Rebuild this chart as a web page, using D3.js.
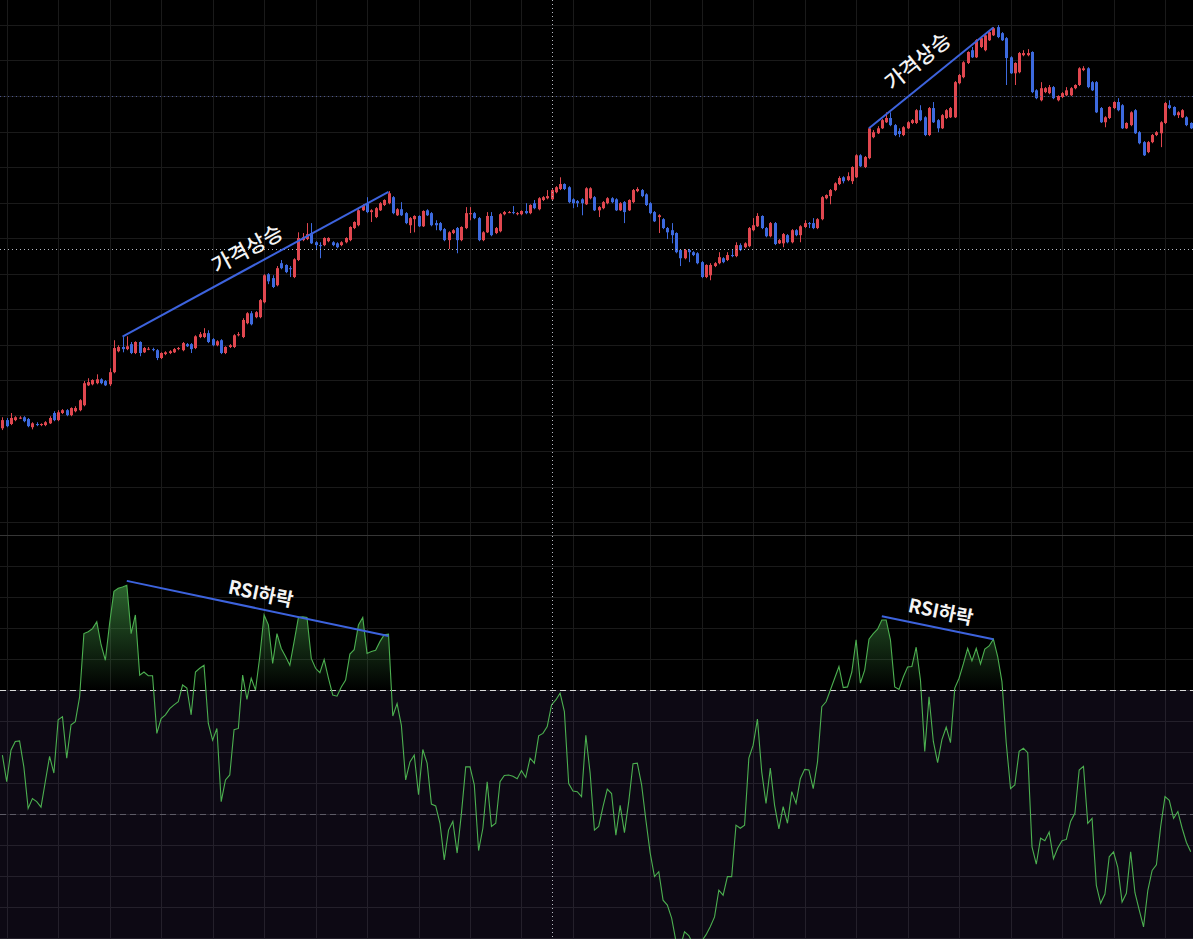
<!DOCTYPE html>
<html>
<head>
<meta charset="utf-8">
<script src="https://cdn.jsdelivr.net/npm/d3@7"></script>
<style>
  html, body { margin: 0; background: #000; }
  svg { display: block; }
</style>
</head>
<body>
<div id="chart"></div>
<script>
// candle data (price units, grid every 10)
const opens = [
  126.4,128.7,127.6,128.7,129.1,129.5,129.0,126.7,127.6,127.3,
  127.3,127.8,130.7,128.7,130.7,131.5,130.1,131.2,131.5,132.9,
  138.5,138.8,139.1,140.2,139.7,138.8,142.2,148.1,149.3,148.7,
  150.1,147.6,150.7,147.8,148.6,148.7,148.4,146.2,147.3,147.6,
  147.8,148.7,148.4,150.1,150.1,149.0,152.1,152.1,153.2,151.5,
  149.8,151.2,147.6,149.3,149.3,152.6,152.1,156.0,158.8,157.7,
  157.7,161.9,169.8,168.7,166.7,172.9,172.4,171.5,169.0,173.8,
  179.4,179.7,181.4,178.8,178.0,178.0,179.1,178.8,178.5,178.0,
  178.8,179.4,182.8,183.6,187.8,189.8,187.3,185.9,187.8,189.3,
  189.8,191.5,186.4,188.1,187.0,183.6,185.3,186.2,183.3,187.8,
  187.0,184.2,184.2,182.5,179.4,181.4,182.8,179.4,182.8,186.7,
  187.0,185.6,179.4,181.6,186.2,181.4,181.9,186.7,187.1,187.3,
  186.9,186.7,187.6,187.0,189.8,188.1,190.7,191.2,190.9,192.9,
  193.8,195.2,194.3,190.9,190.4,190.9,189.5,191.2,191.5,187.8,
  188.4,189.8,191.2,190.9,187.8,190.1,187.8,190.1,193.2,193.5,
  192.3,189.8,187.3,185.9,185.3,182.8,182.2,181.4,176.6,174.3,
  176.6,176.0,175.7,173.2,169.0,169.5,172.1,172.9,174.3,173.8,
  175.2,174.9,178.0,177.4,177.7,182.2,183.3,186.2,182.8,180.5,
  184.2,178.5,178.5,180.8,178.8,182.2,180.8,183.1,184.2,184.2,
  182.8,185.3,191.2,191.8,193.5,195.2,197.1,196.3,196.0,197.1,
  203.3,200.0,202.5,208.4,209.5,210.9,212.6,213.8,211.8,210.1,
  209.0,210.9,212.4,212.4,216.0,214.0,209.0,216.6,213.2,210.9,
  213.8,214.0,214.0,223.6,225.3,229.3,232.9,230.9,233.8,232.9,
  235.7,237.1,239.4,237.7,236.3,230.9,226.4,226.7,231.5,231.5,
  232.4,221.6,218.8,221.1,220.8,222.5,218.8,219.7,220.2,220.2,
  222.2,223.1,227.3,227.8,223.9,223.9,216.6,212.6,213.8,216.6,
  218.3,217.4,210.9,211.8,216.0,209.8,207.0,204.2,207.0,209.0,
  209.5,212.4,217.4,216.9,214.6,214.0,214.0,212.4
];
const highs = [
  129.5,129.3,130.7,129.8,129.8,129.8,129.3,128.1,128.1,127.8,
  128.4,129.8,131.2,131.5,131.8,131.8,132.3,132.6,134.6,139.7,
  140.5,140.2,141.6,140.5,140.0,143.3,151.2,149.8,152.1,152.3,
  150.7,150.9,150.9,149.3,149.3,149.1,148.7,147.8,148.1,148.4,
  149.0,149.3,150.7,150.4,150.4,152.6,153.5,154.6,154.0,151.8,
  151.2,151.5,149.5,150.1,152.9,153.5,157.4,159.1,159.4,159.4,
  162.8,169.8,170.1,169.5,172.1,173.8,172.6,172.1,174.3,181.6,
  181.4,184.2,184.2,179.1,178.8,180.2,180.2,179.1,178.8,179.1,
  180.2,183.3,184.7,188.1,189.5,191.5,188.1,188.7,190.1,190.9,
  193.2,191.8,188.4,190.1,187.3,185.9,186.4,186.4,187.8,188.1,
  187.3,185.0,184.5,182.8,181.9,182.5,183.1,183.3,188.7,188.7,
  187.3,185.9,181.9,187.3,187.3,183.1,187.0,187.6,187.6,189.0,
  187.3,187.8,189.8,189.5,190.7,191.5,191.8,193.5,193.8,194.6,
  197.1,195.4,194.6,191.2,190.7,191.2,194.3,194.3,191.8,189.0,
  190.4,191.5,191.5,191.2,190.1,190.4,190.9,193.8,194.3,193.8,
  192.6,190.1,187.6,186.7,185.6,183.1,184.2,181.6,176.9,176.9,
  176.9,176.3,176.0,173.5,172.6,172.9,173.2,176.0,174.6,176.0,
  176.6,178.8,178.5,178.8,183.1,185.6,187.0,186.4,183.1,184.5,
  184.5,179.7,181.4,181.1,182.5,182.5,183.6,185.0,184.5,185.6,
  185.6,191.8,192.3,193.8,195.7,197.4,197.4,198.5,200.2,203.6,
  203.6,203.1,211.2,210.4,211.5,213.5,215.4,215.4,212.1,210.9,
  211.5,212.9,213.5,216.3,217.4,214.3,216.9,218.3,213.5,214.9,
  216.3,216.9,224.2,226.2,229.8,232.6,233.8,236.0,236.6,237.7,
  238.3,239.4,240.0,238.0,236.6,231.2,229.5,232.4,232.9,233.2,
  232.6,221.9,223.9,222.5,223.1,222.8,220.2,221.1,222.5,222.5,
  223.3,228.1,228.4,228.1,224.2,224.2,216.9,214.3,217.1,218.5,
  219.4,217.7,212.6,215.7,216.3,210.1,207.3,207.3,209.3,210.1,
  212.9,218.3,218.8,217.1,215.7,216.3,214.3,212.6
];
const lows = [
  125.9,126.7,127.3,128.4,129.0,128.1,126.7,126.1,127.0,127.0,
  127.0,127.6,128.4,128.4,130.4,129.8,129.8,130.9,131.2,132.6,
  138.3,138.5,138.8,138.8,138.3,138.3,141.9,147.8,147.8,148.4,
  147.3,147.3,146.7,147.6,148.4,148.1,145.6,145.9,147.0,147.3,
  147.6,148.4,148.1,149.3,147.6,148.7,151.8,151.8,150.4,149.5,
  149.5,147.3,147.3,149.0,149.0,152.3,151.8,155.7,155.4,157.4,
  157.4,161.6,167.0,165.9,166.4,171.2,170.1,169.0,168.7,173.5,
  179.1,179.4,178.3,176.6,174.3,177.7,178.8,177.7,177.1,177.7,
  178.5,179.1,182.5,183.3,187.6,187.0,184.5,185.6,187.6,189.0,
  189.5,186.7,186.2,186.2,183.9,181.4,181.6,183.1,183.1,186.2,
  183.3,182.2,181.9,179.1,176.9,181.1,175.7,179.1,182.5,185.0,
  185.3,179.1,179.1,181.4,180.5,181.1,181.6,186.4,187.0,186.7,
  186.4,186.4,186.7,186.7,188.1,187.8,190.4,190.9,190.7,192.6,
  193.5,193.5,189.8,188.4,188.7,186.4,189.3,190.9,187.6,185.9,
  188.1,189.5,189.8,187.6,187.6,184.2,187.6,189.8,192.9,191.5,
  189.0,186.7,184.5,181.4,182.5,179.7,178.5,175.7,172.1,174.0,
  173.2,174.9,172.6,168.7,168.7,168.1,171.8,172.6,172.9,173.5,
  174.6,174.6,176.3,177.1,177.4,181.9,183.1,182.5,180.2,180.2,
  178.0,178.3,177.4,178.5,178.5,180.5,178.8,182.8,182.8,182.5,
  182.5,185.0,190.9,189.5,193.2,194.9,195.4,196.0,195.2,196.9,
  200.0,199.7,202.2,208.1,209.3,210.7,212.4,211.5,208.7,208.4,
  208.7,210.7,212.1,212.1,212.9,208.7,208.7,212.4,209.8,210.7,
  213.5,213.8,213.8,223.3,225.0,229.0,230.7,230.7,233.5,232.6,
  235.5,236.9,236.3,235.5,223.1,226.2,223.1,226.4,231.2,231.2,
  220.8,219.1,218.5,220.8,220.5,219.1,218.5,219.4,220.0,220.0,
  221.9,222.8,227.0,222.2,221.4,215.2,212.4,211.2,213.5,216.3,
  215.7,210.7,210.7,211.5,209.3,206.4,203.1,203.9,206.7,208.7,
  205.6,212.1,216.3,214.3,213.8,213.8,211.5,210.7
];
const closes = [
  128.7,127.0,129.3,129.5,129.4,128.4,127.0,127.8,127.3,127.6,
  128.1,129.3,128.7,130.9,131.5,130.1,132.1,132.1,134.3,139.1,
  139.4,140.0,140.2,139.1,138.5,142.2,149.0,149.3,148.7,149.5,
  147.6,150.7,147.6,149.0,148.8,148.6,146.2,147.6,147.8,148.1,
  148.7,149.0,150.4,149.5,148.7,152.3,152.9,153.2,150.7,149.8,
  150.9,147.6,149.3,149.8,152.6,152.9,156.9,158.8,155.7,159.1,
  162.5,169.5,167.8,166.2,171.5,171.5,170.4,171.2,174.0,180.0,
  180.2,181.1,178.5,178.0,177.7,180.0,180.0,178.0,177.4,178.8,
  180.0,183.1,184.5,187.8,189.3,187.3,187.8,188.4,189.8,190.7,
  192.6,187.0,188.1,186.4,184.2,185.6,186.2,183.3,187.6,186.4,
  183.6,183.6,182.2,179.4,181.6,182.2,179.4,183.1,187.0,187.0,
  185.6,179.4,181.6,186.2,180.8,182.8,186.7,187.3,187.3,187.1,
  187.0,187.6,187.0,189.3,188.4,191.2,191.5,191.8,193.5,194.3,
  195.2,193.8,190.1,189.8,189.8,189.8,194.0,194.0,187.8,188.7,
  190.1,191.2,190.1,187.8,189.8,187.3,190.7,193.5,193.8,191.8,
  189.3,187.0,184.7,186.4,182.8,181.6,180.8,176.0,174.3,176.6,
  176.0,175.2,172.9,169.0,172.4,172.4,172.9,174.6,173.2,175.2,
  174.9,178.0,176.6,178.5,182.8,183.6,186.2,182.8,180.5,184.2,
  178.3,179.4,181.1,178.8,182.2,180.8,183.3,184.2,183.9,182.8,
  185.3,191.5,192.1,193.5,195.4,196.9,196.0,197.4,200.0,203.3,
  200.2,202.8,210.9,209.8,210.9,213.2,213.8,211.8,209.0,209.3,
  211.2,212.6,213.2,216.0,213.2,209.0,216.6,212.6,210.9,214.6,
  216.0,216.6,223.9,225.9,229.5,232.4,230.9,235.7,236.3,237.1,
  238.0,239.1,236.6,235.7,230.7,226.4,229.3,232.1,232.1,232.1,
  221.1,219.4,222.2,222.2,222.5,219.4,220.0,220.8,221.6,222.2,
  223.1,227.8,227.8,222.5,221.6,215.4,212.6,214.0,216.9,218.3,
  216.0,210.9,212.4,215.4,209.5,206.7,203.3,207.0,209.0,209.8,
  212.6,218.0,216.6,214.6,215.4,216.0,211.8,210.9
];
const rsi = [
  59.5,55.2,60.3,61.7,61.8,57.6,50.9,52.5,52.0,51.1,
  55.2,59.3,56.6,65.2,65.7,59.0,64.4,64.9,68.9,79.1,
  79.4,79.9,81.0,77.3,74.8,80.8,85.9,86.4,86.6,86.9,
  79.1,82.1,72.4,72.9,72.3,72.3,63.0,65.4,66.0,67.0,
  67.6,68.1,70.8,70.3,66.0,72.9,73.5,74.0,64.6,61.9,
  63.8,52.0,55.5,56.3,63.6,63.8,72.4,68.5,71.9,70.0,
  75.4,82.1,80.5,74.3,79.1,76.7,75.4,74.0,77.8,81.7,
  81.8,81.7,75.1,73.5,72.8,74.9,71.9,69.2,69.0,70.5,
  71.6,75.8,76.5,80.5,81.7,75.9,76.2,76.4,77.8,78.9,
  79.0,65.8,67.8,64.3,55.5,58.4,59.5,53.1,60.4,58.2,
  51.6,51.3,48.5,42.6,47.4,48.8,43.7,50.1,57.6,57.6,
  54.7,44.1,47.7,55.2,48.0,48.5,55.2,56.2,56.3,56.1,
  55.7,57.0,55.9,59.0,58.2,62.6,63.0,64.1,67.6,68.4,
  69.5,66.5,54.9,53.7,53.6,52.8,62.7,56.6,47.4,48.0,
  51.2,54.0,53.3,46.6,51.4,47.0,52.0,58.1,58.2,54.7,
  49.0,43.7,39.9,40.7,36.1,35.3,33.2,29.5,28.5,31.0,
  30.4,29.0,28.0,29.5,30.5,31.8,33.4,37.7,36.9,39.9,
  39.9,48.2,47.7,48.2,59.0,61.1,65.3,56.8,51.7,57.4,
  51.4,47.6,51.2,48.5,53.6,51.7,55.7,57.2,57.1,54.1,
  58.4,67.3,68.1,70.0,71.9,73.8,70.4,70.5,72.9,78.1,
  71.1,73.2,78.2,79.1,79.8,81.3,81.3,78.1,70.5,70.1,
  72.1,73.7,73.8,76.9,71.6,60.1,68.9,61.7,58.3,62.0,
  64.0,61.5,70.3,71.9,74.2,76.7,74.7,76.7,74.2,76.6,
  77.1,78.2,75.4,71.3,61.4,54.1,54.7,60.1,60.6,59.9,
  44.7,41.9,46.1,45.7,47.1,42.8,44.5,45.7,45.9,48.8,
  50.1,57.1,57.7,48.5,49.3,38.5,35.6,37.1,43.1,43.9,
  41.4,35.8,37.2,43.9,37.3,34.5,31.8,37.7,40.9,41.8,
  48.0,52.8,52.2,49.3,50.4,47.7,45.4,43.9
];

// grid / level values
const timeGridBars = [1,13,25,37,49,61,73,85,97,109,121,133,151,163,175,187,199,211,223,235,247,259,271];
const priceTicks = [100,110,120,130,140,150,160,170,180,190,200,210,220,230,240];
const rsiTicks = [30,35,40,45,50,55,60,65,70,75,80,85,90];
const rsiUpper = 70, rsiMid = 50;
const priceLine = 220.0;
const crossBar = 128, crossPrice = 176.9;

// drawn trend lines [bar, value]
const priceTrendA = [[28, 152.2], [90, 193.0]];
const priceTrendB = [[202, 210.9], [231, 239.3]];
const rsiTrendA = [[29, 87.6], [90, 78.7]];
const rsiTrendB = [[205, 81.9], [231, 78.2]];

const W = 1193, H = 939, split = 535;
const upColor = "#e0474f", downColor = "#3d6ade";
const trendColor = "#3d63dd";

const svg = d3.select("#chart").append("svg")
  .attr("width", W)
  .attr("height", H)
  .style("background", "#000")

const x = d3.scaleLinear().domain([0, closes.length - 1]).range([2.4, 2.4 + (closes.length - 1) * 4.29])
const yP = d3.scaleLinear().domain([100, 240]).range([522, 25])
const yR = d3.scaleLinear().domain([30, 95]).range([938, split])

const defs = svg.append("defs")
defs.append("clipPath").attr("id", "clipTop")
  .append("rect").attr("x", 0).attr("y", 0).attr("width", W).attr("height", split)
defs.append("clipPath").attr("id", "clipBottom")
  .append("rect").attr("x", 0).attr("y", split).attr("width", W).attr("height", H - split)
defs.append("clipPath").attr("id", "clipOB")
  .append("rect").attr("x", 0).attr("y", split).attr("width", W).attr("height", yR(rsiUpper) - split)

let grad = defs.append("linearGradient").attr("id", "obFill")
  .attr("gradientUnits", "userSpaceOnUse")
  .attr("x1", 0).attr("x2", 0)
  .attr("y1", yR(100)).attr("y2", yR(rsiUpper))
grad.append("stop").attr("offset", 0).attr("stop-color", "#4caf50").attr("stop-opacity", 1)
grad.append("stop").attr("offset", 1).attr("stop-color", "#4caf50").attr("stop-opacity", 0)

const crisp = v => Math.round(v) + 0.5

// grid
let grid = svg.append("g").attr("stroke", "#1a1a1a").attr("stroke-width", 1)
grid.selectAll(".vg").data(timeGridBars).enter().append("line")
  .attr("x1", d => crisp(x(d))).attr("x2", d => crisp(x(d)))
  .attr("y1", 0).attr("y2", H)
grid.selectAll(".hp").data(priceTicks).enter().append("line")
  .attr("x1", 0).attr("x2", W)
  .attr("y1", d => crisp(yP(d))).attr("y2", d => crisp(yP(d)))
grid.selectAll(".hr").data(rsiTicks).enter().append("line")
  .attr("x1", 0).attr("x2", W)
  .attr("y1", d => crisp(yR(d))).attr("y2", d => crisp(yR(d)))

// RSI band background (below 70)
svg.append("rect")
  .attr("x", 0).attr("width", W)
  .attr("y", yR(rsiUpper)).attr("height", H - yR(rsiUpper))
  .attr("fill", "rgba(126,87,194,0.1)")

// pane separator
svg.append("line")
  .attr("x1", 0).attr("x2", W)
  .attr("y1", split + 0.5).attr("y2", split + 0.5)
  .attr("stroke", "#363636")

// candles
let candles = svg.append("g").attr("clip-path", "url(#clipTop)")
  .selectAll("g").data(closes.map((c, i) => i)).enter().append("g")
  .attr("fill", i => closes[i] >= opens[i] ? upColor : downColor)

candles.append("rect")
  .attr("x", i => Math.round(x(i)))
  .attr("width", 1)
  .attr("y", i => yP(highs[i]))
  .attr("height", i => yP(lows[i]) - yP(highs[i]))

candles.append("rect")
  .attr("x", i => Math.round(x(i)) - 1)
  .attr("width", 3)
  .attr("y", i => yP(Math.max(opens[i], closes[i])))
  .attr("height", i => Math.max(1, Math.abs(yP(opens[i]) - yP(closes[i]))))

// price line (dotted)
svg.append("line")
  .attr("x1", 0).attr("x2", W)
  .attr("y1", crisp(yP(priceLine))).attr("y2", crisp(yP(priceLine)))
  .attr("stroke", "#4c5690").attr("stroke-dasharray", "1,3")

// horizontal crosshair
svg.append("line")
  .attr("x1", 0).attr("x2", W)
  .attr("y1", crisp(yP(crossPrice))).attr("y2", crisp(yP(crossPrice)))
  .attr("stroke", "#b8bbc4").attr("stroke-dasharray", "1,3")

// RSI levels
svg.append("line")
  .attr("x1", 0).attr("x2", W)
  .attr("y1", crisp(yR(rsiUpper))).attr("y2", crisp(yR(rsiUpper)))
  .attr("stroke", "#d8d8d8").attr("stroke-dasharray", "6,4")
svg.append("line")
  .attr("x1", 0).attr("x2", W)
  .attr("y1", crisp(yR(rsiMid))).attr("y2", crisp(yR(rsiMid)))
  .attr("stroke", "#5d5b66").attr("stroke-dasharray", "6,4")

// overbought gradient fill
let obArea = d3.area()
  .x((d, i) => x(i))
  .y0(yR(rsiUpper))
  .y1(d => yR(d))
svg.append("path")
  .datum(rsi)
  .attr("clip-path", "url(#clipOB)")
  .attr("d", obArea)
  .attr("fill", "url(#obFill)")

// RSI line
svg.append("path")
  .datum(rsi)
  .attr("clip-path", "url(#clipBottom)")
  .attr("d", d3.line().x((d, i) => x(i)).y(d => yR(d)))
  .attr("fill", "none")
  .attr("stroke", "#4caf50")
  .attr("stroke-width", 1.1)

// trend lines + labels
function trend(pts, yScale, label, size, weight, offset) {
  let p0 = [x(pts[0][0]), yScale(pts[0][1])]
  let p1 = [x(pts[1][0]), yScale(pts[1][1])]
  svg.append("line")
    .attr("x1", p0[0]).attr("y1", p0[1])
    .attr("x2", p1[0]).attr("y2", p1[1])
    .attr("stroke", trendColor)
    .attr("stroke-width", 2)
  let dx = p1[0] - p0[0], dy = p1[1] - p0[1]
  let len = Math.hypot(dx, dy)
  let ang = Math.atan2(dy, dx) * 180 / Math.PI
  // normal pointing upward
  let nx = dy / len, ny = -dx / len
  let cx = (p0[0] + p1[0]) / 2 + nx * offset
  let cy = (p0[1] + p1[1]) / 2 + ny * offset
  svg.append("text")
    .attr("transform", `translate(${cx},${cy}) rotate(${ang})`)
    .attr("text-anchor", "middle")
    .attr("dominant-baseline", "central")
    .attr("fill", "#f4f4f4")
    .style("font-family", "'Noto Sans CJK KR', 'Noto Sans', sans-serif")
    .style("font-size", size + "px")
    .style("font-weight", weight)
    .text(label)
}

trend(priceTrendA, yP, "가격상승", 21, 500, 19)
trend(priceTrendB, yP, "가격상승", 21, 500, 23)
trend(rsiTrendA, yR, "RSI하락", 19, 700, 17)
trend(rsiTrendB, yR, "RSI하락", 19, 700, 18)

// vertical crosshair
svg.append("line")
  .attr("x1", crisp(x(crossBar))).attr("x2", crisp(x(crossBar)))
  .attr("y1", 0).attr("y2", H)
  .attr("stroke", "#b8bbc4").attr("stroke-dasharray", "1,3")
</script>
</body>
</html>
